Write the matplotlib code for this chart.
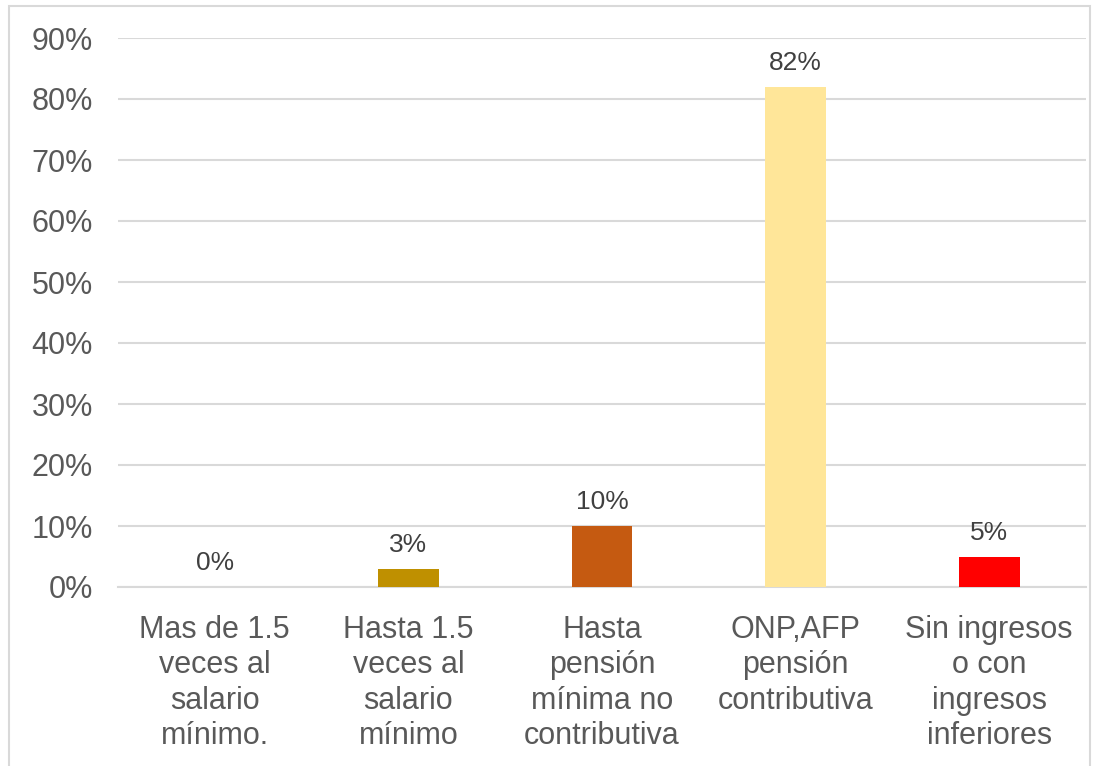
import matplotlib
matplotlib.use("Agg")
import matplotlib.pyplot as plt
from matplotlib.patches import Rectangle

categories = [
    "Mas de 1.5\nveces al\nsalario\nmínimo.",
    "Hasta 1.5\nveces al\nsalario\nmínimo",
    "Hasta\npensión\nmínima no\ncontributiva",
    "ONP,AFP\npensión\ncontributiva",
    "Sin ingresos\no con\ningresos\ninferiores",
]
values = [0, 3, 10, 82, 5]
colors = ["#4472C4", "#BF9000", "#C55A11", "#FFE699", "#FF0000"]
yticks = [0, 10, 20, 30, 40, 50, 60, 70, 80, 90]

plt.rcParams["font.family"] = ["Liberation Sans", "DejaVu Sans"]

fig = plt.figure(figsize=(11.17, 7.66), dpi=100)
ax = fig.add_axes([118 / 1117, 1 - 587 / 766, (1086 - 118) / 1117, (587 - 38) / 766])

x = range(len(categories))
bars = ax.bar(x, values, width=0.315, color=colors, zorder=3)

for xi, v in zip(x, values):
    ax.text(xi, v + 1.9, f"{v}%", ha="center", va="bottom", fontsize=19, color="#404040")

ax.set_xlim(-0.5, len(categories) - 0.5)
ax.set_ylim(0, 90)
ax.set_yticks(yticks)
ax.set_yticklabels([f"{t}%" for t in yticks], fontsize=22, color="#595959")
ax.set_xticks(list(x))
ax.set_xticklabels(categories, fontsize=22, color="#595959", linespacing=1.24)
ax.tick_params(axis="both", length=0)
ax.tick_params(axis="y", pad=18)
ax.tick_params(axis="x", pad=20)
ax.grid(axis="y", color="#D9D9D9", linewidth=1.5, zorder=0)
for side in ["top", "right", "left"]:
    ax.spines[side].set_visible(False)
ax.spines["bottom"].set_color("#D9D9D9")
ax.spines["bottom"].set_linewidth(1.5)

# chart frame
fig.patches.append(Rectangle((9 / 1117, -0.01), (1090 - 9) / 1117, 1 - 6 / 766 + 0.01,
                             transform=fig.transFigure, fill=False,
                             edgecolor="#D9D9D9", linewidth=1.5))

fig.savefig("out.png", dpi=100)
